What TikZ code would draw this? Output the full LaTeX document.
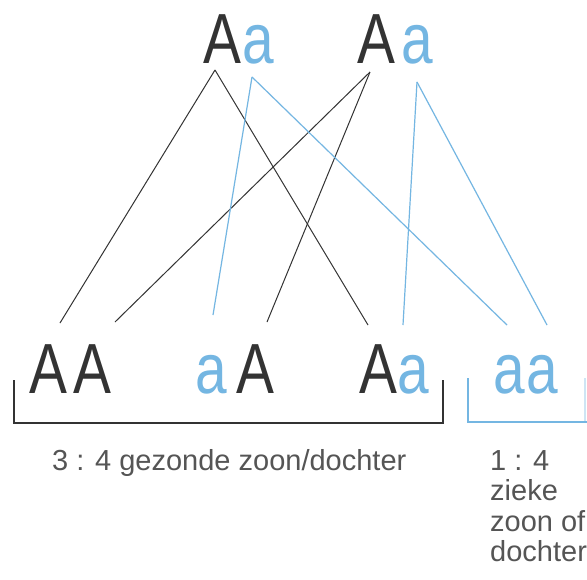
\documentclass[tikz,border=0pt]{standalone}
\usepackage{fontspec}
\setmainfont{Liberation Sans}
\newfontfamily\bigfont[FakeStretch=0.8]{Liberation Sans}
\definecolor{ink}{HTML}{333333}
\definecolor{sky}{HTML}{74B6E2}
\definecolor{txt}{HTML}{555555}
\begin{document}
\begin{tikzpicture}[x=1pt,y=-1pt,
  big/.style={inner sep=0, anchor=base, font=\bigfont\fontsize{71}{71}\selectfont},
  capA/.style={big, text=ink},
  smalla/.style={big, text=sky},
  bl/.style={draw=ink, line width=1pt},
  bu/.style={draw=sky, line width=1.2pt},
  bracketk/.style={draw=ink, line width=1.2pt},
  bracketb/.style={draw=sky, line width=1.2pt},
  lab/.style={inner sep=0, anchor=base west, text=txt, font=\fontsize{29}{29}\selectfont}]
\useasboundingbox (0,0) rectangle (587,579);
\fill[white] (0,0) rectangle (587,579);
% parents
\node[capA]   (pA1) at (222,63) {A};
\node[smalla] (pa1) at (258,63) {a};
\node[capA]   (pA2) at (376,63) {A};
\node[smalla] (pa2) at (417,63) {a};
% children
\node[capA]   (c1A) at (48,393) {A};
\node[capA]   (c1B) at (92,393) {A};
\node[smalla] (c2a) at (211,393) {a};
\node[capA]   (c2A) at (255,393) {A};
\node[capA]   (c3A) at (378,393) {A};
\node[smalla] (c3a) at (413,393) {a};
\node[smalla] (c4a) at (509,393) {a};
\node[smalla] (c4b) at (542,393) {a};
% line end points
\coordinate (sA1) at (215,70);
\coordinate (sa1) at (252,77);
\coordinate (sA2) at (370,72);
\coordinate (sa2) at (417,82);
\coordinate (e1) at (60,323);
\coordinate (e2) at (115,322);
\coordinate (e3) at (213,315);
\coordinate (e4) at (267,322);
\coordinate (e5) at (368,325);
\coordinate (e6) at (403,325);
\coordinate (e7) at (507,325);
\coordinate (e8) at (547,325);
% connectors
\draw[bl] (sA1) -- (e1);
\draw[bl] (sA1) -- (e5);
\draw[bl] (sA2) -- (e2);
\draw[bl] (sA2) -- (e4);
\draw[bu] (sa1) -- (e3);
\draw[bu] (sa1) -- (e7);
\draw[bu] (sa2) -- (e6);
\draw[bu] (sa2) -- (e8);
% brackets
\coordinate (k1) at (14,380);
\coordinate (k2) at (14,423);
\coordinate (k3) at (443,423);
\coordinate (k4) at (443,380);
\draw[bracketk] (k1) -- (k2) -- (k3) -- (k4);
\coordinate (b1) at (468,378);
\coordinate (b2) at (468,422);
\coordinate (b3) at (587,422);
\coordinate (b4) at (585,378);
\coordinate (b5) at (585,422);
\draw[bracketb] (b1) -- (b2) -- (b3);
\draw[bracketb, draw opacity=0.35] (b5) -- (b4);
% labels
\node[lab] (t1) at (52,470) {3 : 4 gezonde zoon/dochter};
\node[lab] (t2) at (490,470) {1 : 4};
\node[lab] (t3) at (490,500) {zieke};
\node[lab] (t4) at (490,531) {zoon of};
\node[lab] (t5) at (490,561) {dochter};
\end{tikzpicture}
\end{document}
